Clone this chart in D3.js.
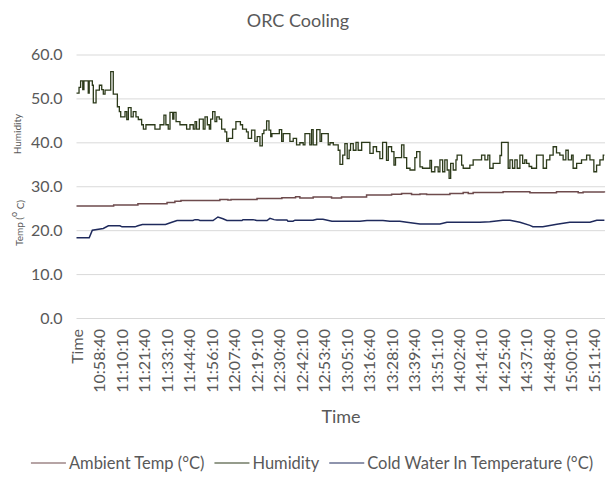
<!DOCTYPE html>
<html>
<head>
<meta charset="utf-8">
<script src="https://cdn.jsdelivr.net/npm/d3@7"></script>
<style>
  body { margin: 0; background: #fff; }
  text { font-family: Lato, "Open Sans", sans-serif; fill: #595959; }
</style>
</head>
<body>
<svg id="chart" width="607" height="484"></svg>
<script>
// category labels on the x axis (first one is the header cell "Time")
const tickLabels = ["Time", "10:58:40", "11:10:10", "11:21:40", "11:33:10", "11:44:40", "11:56:10",
  "12:07:40", "12:19:10", "12:30:40", "12:42:10", "12:53:40", "13:05:10", "13:16:40", "13:28:10",
  "13:39:40", "13:51:10", "14:02:40", "14:14:10", "14:25:40", "14:37:10", "14:48:40", "15:00:10", "15:11:40"];
const startClock = "10:47:10";
const yTicks = [0, 10, 20, 30, 40, 50, 60];
const seriesNames = ["Ambient Temp (°C)", "Humidity", "Cold Water In Temperature (°C)"];

// [minutes after start, value]
const ambient = [[0,25.5],[19,25.75],[31.4,26.0],[46.3,26.3],[50.3,26.6],[53.4,26.75],[73.3,27.0],
  [77.4,26.85],[79,27.0],[92.3,27.2],[105,27.4],[112,27.6],[114.2,27.35],[121,27.58],[130.4,27.35],
  [135.5,27.58],[148.3,28.03],[161.1,28.18],[166.2,28.33],[171.3,28.1],[175.6,28.26],[179,28.1],
  [190.9,28.33],[197.7,28.56],[200.3,28.33],[202.8,28.56],[218.1,28.75],[231.8,28.5],[245.4,28.75],
  [256.5,28.5],[259,28.7],[269.9,28.6]];

const humidity = [[0,51.2],[1.3,52.5],[2.1,54],[3.2,52],[3.8,54],[6.0,51.2],[6.5,54],[8.1,53],[8.6,49],
  [10.0,51.9],[11.7,53],[12.9,52],[13.7,51],[14.6,51.9],[17.5,56.1],[18.8,51],[20.9,48.1],[21.9,47],
  [22.6,45.8],[24.8,47],[25.7,45.2],[26.5,47.9],[27.9,45.8],[29.0,47],[30.4,45.8],[31.6,45.2],[33.3,44],
  [34.2,43],[35.5,44],[40.1,43],[42.7,44],[44.7,46.2],[45.7,44],[46.9,43],[47.8,46.8],[49.2,45.3],
  [49.8,46.8],[50.9,44.7],[52.9,44],[56.3,43],[58.0,44],[59.7,43],[60.6,44.7],[61.4,43],[62.8,45.3],
  [64.8,43],[65.7,45.8],[66.9,44],[67.9,43],[68.6,45.3],[69.6,47],[70.8,44.7],[71.7,45.8],[73.0,45.3],
  [74.2,43],[75.9,42.4],[76.8,40.2],[77.6,40.9],[79.8,43],[81.5,44.7],[83.8,44],[84.9,43],[86.9,42.4],
  [87.8,40.9],[89.5,42.8],[91.2,40.2],[92.4,41.3],[93.8,39.2],[95.0,42],[95.8,42.8],[97.2,44.9],
  [98.4,42.8],[99.3,41.3],[99.9,42],[103.7,42.9],[104.9,40.2],[105.7,42],[109.1,40.2],[110.8,40.9],
  [112.5,39.4],[114.2,39.9],[115.9,39.4],[116.8,42],[119.3,39.4],[120.2,42.9],[121.0,39.4],[122.8,42.9],
  [124.5,40.2],[125.3,42],[128.7,39.4],[129.6,39.9],[131.3,39.4],[133.8,38.2],[134.7,35],[136.1,37.1],
  [137.2,39.7],[138.4,36.3],[139.4,38.2],[140.1,39.7],[141.5,38.2],[142.9,40],[144.0,38.2],[145.8,40],
  [150.0,37.5],[151.7,39],[153.4,37.9],[155.1,36.3],[156.5,40],[158.5,35.9],[159.4,39],[161.1,37.9],
  [162.3,34.8],[163.1,36.5],[166.2,39.4],[167.4,36.5],[168.8,34.1],[170.5,33.7],[173.0,36.5],[173.9,37.9],
  [175.6,34.4],[176.9,34.1],[180.7,35.9],[181.5,33.3],[183.2,34.4],[184.9,33.3],[185.8,36],[187.2,33.3],
  [188.3,36],[189.5,33.7],[190.5,31.8],[191.3,35.2],[192.6,33.7],[194.0,36],[194.6,37.1],[196.9,34.8],
  [197.7,34.1],[201.1,34.8],[202.8,36],[207.1,37.1],[208.8,36],[210.3,37.1],[211.3,34.1],[213.0,35.2],
  [216.5,37],[217.3,40],[220.7,34.1],[221.6,36],[222.9,34.1],[224.1,36],[225.3,34.1],[226.7,37.1],
  [228.1,35.2],[229.2,36],[230.1,35.2],[231.4,34.5],[232.7,34.1],[235.2,37.1],[238.6,34.1],[240.3,36],
  [242.0,37.1],[243.7,39],[245.4,37.6],[247.1,37.1],[248.8,36],[250.2,38.2],[251.4,36],[253.1,37.1],
  [253.9,34.1],[255.7,35.2],[258.2,36],[260.8,37.1],[262.5,36],[264.5,33.3],[265.9,34.8],[267.6,36],
  [269.3,37.1],[269.9,37.1]];

const coldWater = [[0,18.25],[6.5,18.25],[8.1,20.0],[13.7,20.4],[16.3,21.0],[22.2,21.0],[23.3,20.75],
  [29.9,20.75],[31.4,21.0],[33.7,21.3],[45.5,21.3],[48.0,21.67],[51.4,22.2],[59.5,22.2],[60.6,22.4],
  [62.1,22.4],[63.1,22.2],[69.8,22.2],[72.3,23.0],[74.9,22.6],[76.9,22.2],[84.6,22.2],[85.1,22.4],
  [90.2,22.4],[92.2,22.2],[97.4,22.2],[98.9,22.7],[101.0,22.4],[102.5,22.3],[107.6,22.3],[108.1,22.05],
  [110.7,22.05],[111.7,22.27],[120.9,22.27],[122.9,22.5],[126.0,22.5],[130.6,22.05],[144.9,22.05],
  [148.5,22.2],[156.7,22.2],[160.2,22.05],[165.3,22.05],[168.9,21.8],[175.6,21.4],[185.8,21.4],
  [189.4,21.8],[206.2,21.8],[211.3,21.9],[218.0,22.27],[221.6,22.27],[226.7,21.8],[231.8,21.1],
  [233.3,20.8],[238.4,20.8],[245.6,21.36],[252.2,21.8],[262.5,21.8],[266.0,22.27],[269.9,22.27]];

const colors = ["#6e4b4d", "#2c3a1a", "#1f2a5c"];

const svg = d3.select("#chart");
const x = d3.scaleLinear().domain([0, 270.2]).range([76.5, 605]);
const y = d3.scaleLinear().domain([0, 60]).range([318, 54.5]);

function toSec(s) {
  const p = s.split(":").map(Number);
  return p[0] * 3600 + p[1] * 60 + p[2];
}
const tickMin = tickLabels.map(l => l.includes(":") ? (toSec(l) - toSec(startClock)) / 60 : 0);

// gridlines + y labels
const yAxis = svg.append("g").attr("transform", "translate(76.5,0)")
  .call(d3.axisLeft(y).tickValues(yTicks).tickFormat(d3.format(".1f")).tickSize(-528.5).tickPadding(14));
yAxis.select(".domain").remove();
yAxis.selectAll(".tick line").attr("stroke", "#d9d9d9");
yAxis.selectAll(".tick text").style("font-size", "16px").attr("fill", "#595959");

// x labels (rotated)
const xAxis = svg.append("g").attr("transform", "translate(0,318)")
  .call(d3.axisBottom(x).tickValues(tickMin).tickFormat((d, i) => tickLabels[i]).tickSize(0));
xAxis.select(".domain").remove();
xAxis.selectAll(".tick text")
  .style("font-size", "16px").attr("fill", "#595959")
  .attr("text-anchor", "end")
  .attr("transform", "rotate(-90)")
  .attr("x", -11).attr("y", 0).attr("dy", "0.35em");

// lines
const stepLine = d3.line().x(d => x(d[0])).y(d => y(d[1])).curve(d3.curveStepAfter);
const plainLine = d3.line().x(d => x(d[0])).y(d => y(d[1]));
svg.append("path").datum(ambient).attr("d", stepLine)
  .attr("fill", "none").attr("stroke", colors[0]).attr("stroke-width", 1.5);
svg.append("path").datum(coldWater).attr("d", plainLine)
  .attr("fill", "none").attr("stroke", colors[2]).attr("stroke-width", 1.5);
svg.append("path").datum(humidity).attr("d", stepLine)
  .attr("fill", "none").attr("stroke", colors[1]).attr("stroke-width", 1.3);

// titles
svg.append("text").attr("x", 298).attr("y", 27).attr("text-anchor", "middle")
  .style("font-size", "18px").text("ORC Cooling");
svg.append("text").attr("x", 341).attr("y", 423).attr("text-anchor", "middle")
  .style("font-size", "18px").text("Time");
svg.append("text").attr("transform", "translate(21,134) rotate(-90)").attr("text-anchor", "middle")
  .style("font-size", "10px").text("Humidity");
const tt = svg.append("text").attr("transform", "translate(23,223) rotate(-90)").attr("text-anchor", "middle")
  .style("font-size", "10px");
tt.append("tspan").text("Temp (");
tt.append("tspan").attr("dy", "-0.7em").style("font-size", "9px").text("o");
tt.append("tspan").attr("dy", "0.7em").text(" C)");

// legend
const legend = svg.append("g");
let lx = 0;
seriesNames.forEach((name, i) => {
  const g = legend.append("g").attr("transform", `translate(${lx},0)`);
  g.append("line").attr("x1", 0).attr("x2", 35).attr("y1", 0).attr("y2", 0)
    .attr("stroke", colors[i]).attr("stroke-width", 1.2);
  const t = g.append("text").attr("x", 38).attr("dy", "0.35em").style("font-size", "16.5px").text(name);
  lx += 38 + t.node().getComputedTextLength() + 10;
});
legend.attr("transform", `translate(${312 - (lx - 10) / 2},463)`);
</script>
</body>
</html>
